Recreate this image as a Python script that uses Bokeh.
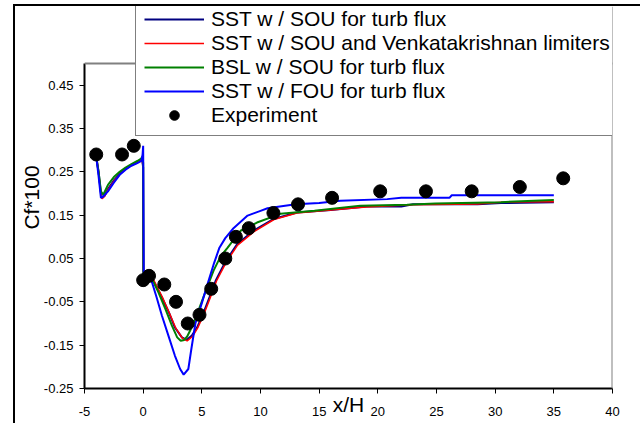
from bokeh.plotting import figure
from bokeh.models import Range1d, FixedTicker, PrintfTickFormatter, Legend, LegendItem, Span
from bokeh.embed import file_html
from bokeh.resources import INLINE

# ---------------- data ----------------
x_ticks = [-5, 0, 5, 10, 15, 20, 25, 30, 35, 40]
y_ticks = [-0.25, -0.15, -0.05, 0.05, 0.15, 0.25, 0.35, 0.45]
x_axis_limits = (-5, 40)
y_axis_limits = (-0.25, 0.5)

series_names = [
    "SST w / SOU for turb flux",
    "SST w / SOU and Venkatakrishnan limiters",
    "BSL w / SOU for turb flux",
    "SST w / FOU for turb flux",
    "Experiment",
]

sst_sou_x = [-4.0, -3.8, -3.6, -3.5, -3.3, -3.0, -2.5, -2.0, -1.5, -1.0, -0.5, -0.1, 0.0, 0.02,
             0.4, 0.85, 1.6, 2.2, 2.7, 3.3, 3.7, 4.15, 4.6, 5.15, 5.7, 6.2, 7.0, 8.0, 9.4,
             11.1, 13.1, 16.0, 19.0, 22.0, 23.0, 28.5, 30.5, 35.0]
sst_sou_y = [0.285, 0.25, 0.20, 0.19, 0.195, 0.21, 0.23, 0.245, 0.257, 0.266, 0.272, 0.28, 0.26, 0.005,
             0.008, 0.0, -0.04, -0.075, -0.109, -0.132, -0.138, -0.128, -0.109, -0.075, -0.036, 0.0, 0.042, 0.083, 0.114,
             0.141, 0.156, 0.162, 0.17, 0.17, 0.175, 0.175, 0.178, 0.18]

sst_venk_x = [-4.0, -3.8, -3.6, -3.5, -3.3, -3.0, -2.5, -2.0, -1.5, -1.0, -0.5, -0.1, 0.0, 0.02,
              0.4, 0.9, 1.65, 2.25, 2.8, 3.35, 3.75, 4.2, 4.65, 5.2, 5.75, 6.25, 7.05, 8.05, 9.45,
              11.15, 13.1, 16.0, 19.0, 23.0, 28.5, 30.5, 35.0]
sst_venk_y = [0.285, 0.25, 0.198, 0.188, 0.193, 0.208, 0.228, 0.244, 0.256, 0.265, 0.271, 0.279, 0.26, 0.005,
              0.007, 0.0, -0.04, -0.077, -0.112, -0.134, -0.14, -0.13, -0.11, -0.077, -0.038, -0.002, 0.04, 0.081, 0.112,
              0.14, 0.155, 0.162, 0.169, 0.174, 0.176, 0.18, 0.181]

bsl_sou_x = [-4.0, -3.8, -3.6, -3.4, -3.0, -2.5, -2.0, -1.5, -1.0, -0.5, -0.2, -0.05, 0.0, 0.02,
             0.4, 0.75, 1.3, 1.9, 2.45, 2.9, 3.2, 3.5, 3.75, 4.3, 4.85, 5.4, 6.0, 6.6, 7.2, 8.3,
             9.7, 11.7, 14.6, 18.5, 22.5, 24.9, 30.5, 35.0]
bsl_sou_y = [0.285, 0.25, 0.205, 0.197, 0.22, 0.238, 0.25, 0.26, 0.268, 0.275, 0.28, 0.285, 0.27, 0.005,
             0.008, 0.003, -0.028, -0.067, -0.105, -0.132, -0.14, -0.138, -0.13, -0.1, -0.06, -0.02, 0.022, 0.055, 0.075, 0.114,
             0.133, 0.153, 0.16, 0.172, 0.174, 0.177, 0.18, 0.185]

sst_fou_x = [-4.0, -3.8, -3.6, -3.4, -3.0, -2.5, -2.0, -1.5, -1.0, -0.5, -0.15, -0.05, 0.0, 0.05,
             0.4, 0.75, 1.15, 1.6, 2.15, 2.7, 3.15, 3.45, 3.85, 4.1, 4.45, 5.0, 5.5, 6.05, 6.5, 7.0,
             7.7, 8.9, 10.0, 10.6, 13.0, 15.0, 16.8, 20.8, 22.0, 26.1, 26.3, 35.0]
sst_fou_y = [0.285, 0.24, 0.19, 0.193, 0.205, 0.225, 0.243, 0.255, 0.264, 0.27, 0.275, 0.29, 0.31, 0.014,
             0.01, -0.005, -0.04, -0.082, -0.128, -0.174, -0.205, -0.218, -0.205, -0.16, -0.1, -0.053, -0.008, 0.04, 0.075, 0.097,
             0.12, 0.149, 0.16, 0.166, 0.175, 0.178, 0.183, 0.187, 0.19, 0.19, 0.196, 0.196]

exp_x = [-4.0, -1.8, -0.8, 0.0, 0.5, 1.8, 2.8, 3.8, 4.8, 5.8, 7.0, 7.9, 9.0, 11.1, 13.2, 16.1, 20.2, 24.1, 28.0, 32.1, 35.8]
exp_y = [0.29, 0.29, 0.31, 0.0, 0.01, -0.01, -0.05, -0.10, -0.08, -0.02, 0.05, 0.10, 0.12, 0.155, 0.175, 0.19, 0.205, 0.205, 0.205, 0.215, 0.235]

# ---------------- figure ----------------
# the frame reaches the canvas top so the legend (which overlaps the plot-area top) is not clipped;
# the plot-area top edge (y = 0.5) is drawn as a span and the left axis is bounded to the data limits.
p = figure(width=627, height=419, output_backend="svg", toolbar_location=None,
           x_range=Range1d(-5, 40), y_range=Range1d(-0.25, 0.6315),
           min_border_left=69, min_border_top=0, min_border_right=30, min_border_bottom=37)
# outer chart-area border (only its left and top edges fall inside the picture)
p.styles = {"margin-left": "13px", "margin-top": "4px",
            "border-left": "2px solid black", "border-top": "2px solid black"}

p.background_fill_color = "white"
p.border_fill_color = "white"
p.outline_line_color = None
p.xgrid.visible = False
p.ygrid.visible = False

font = "Liberation Sans"
for ax in (p.xaxis[0], p.yaxis[0]):
    ax.axis_line_color = "black"
    ax.axis_line_width = 2
    ax.major_tick_line_color = "black"
    ax.major_tick_line_width = 1
    ax.major_tick_out = 5
    ax.major_tick_in = 0
    ax.minor_tick_line_color = None
    ax.major_label_text_font = font
    ax.major_label_text_font_size = "13px"
    ax.major_label_text_color = "black"
    ax.axis_label_text_font = font
    ax.axis_label_text_font_style = "normal"
    ax.axis_label_text_color = "black"
    ax.axis_label_text_font_size = "21px"

p.xaxis.ticker = FixedTicker(ticks=x_ticks)
p.xaxis.formatter = PrintfTickFormatter(format="%d")
p.xaxis.major_label_standoff = 13
p.xaxis.axis_label = "x/H"
p.xaxis.axis_label_standoff = -26
p.xaxis.bounds = x_axis_limits

p.yaxis.ticker = FixedTicker(ticks=y_ticks)
p.yaxis.formatter = PrintfTickFormatter(format="%.2f")
p.yaxis.major_label_standoff = 6
p.yaxis.axis_label = "Cf*100"
p.yaxis.axis_label_standoff = -2
p.yaxis.bounds = y_axis_limits

# grey plot-area border (top and right)
p.add_layout(Span(location=y_axis_limits[1], dimension="width", line_color="#808080", line_width=2))
p.add_layout(Span(location=x_axis_limits[1], dimension="height", line_color="#808080", line_width=2))

r1 = p.line(sst_sou_x, sst_sou_y, line_color="#000080", line_width=2)
r2 = p.line(sst_venk_x, sst_venk_y, line_color="#FF0000", line_width=1.5)
r3 = p.line(bsl_sou_x, bsl_sou_y, line_color="#008000", line_width=2)
r4 = p.line(sst_fou_x, sst_fou_y, line_color="#0000FF", line_width=2)
r5 = p.scatter(exp_x, exp_y, marker="circle", size=13, fill_color="black", line_color="black")

legend = Legend(items=[LegendItem(label=n, renderers=[r]) for n, r in zip(series_names, [r1, r2, r3, r4, r5])],
                location=(51, 252), padding=8, spacing=0, margin=0,
                glyph_width=60, glyph_height=24, label_height=24, label_width=420, label_standoff=7,
                label_text_font=font, label_text_font_size="21px", label_text_color="black",
                border_line_color="black", border_line_width=1,
                background_fill_color="white", background_fill_alpha=1.0)
p.add_layout(legend, "center")

open("out.html", "w").write(file_html(p, INLINE))
